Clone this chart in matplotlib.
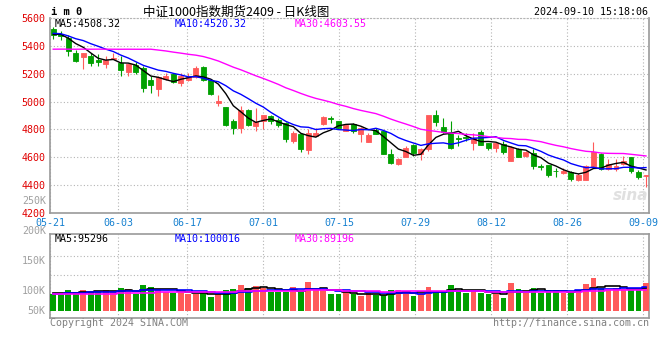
import numpy as np
import pandas as pd
import matplotlib
matplotlib.use('Agg')
import matplotlib.pyplot as plt

# trading days shown on the chart
dates = ['05-21', '05-22', '05-23', '05-24', '05-27', '05-28', '05-29', '05-30', '05-31',
         '06-03', '06-04', '06-05', '06-06', '06-07', '06-11', '06-12', '06-13', '06-14',
         '06-17', '06-18', '06-19', '06-20', '06-21', '06-24', '06-25', '06-26', '06-27', '06-28',
         '07-01', '07-02', '07-03', '07-04', '07-05', '07-08', '07-09', '07-10', '07-11', '07-12',
         '07-15', '07-16', '07-17', '07-18', '07-19', '07-22', '07-23', '07-24', '07-25', '07-26',
         '07-29', '07-30', '07-31', '08-01', '08-02', '08-05', '08-06', '08-07', '08-08', '08-09',
         '08-12', '08-13', '08-14', '08-15', '08-16', '08-19', '08-20', '08-21', '08-22', '08-23',
         '08-26', '08-27', '08-28', '08-29', '08-30', '09-02', '09-03', '09-04', '09-05', '09-06',
         '09-09', '09-10']
tick_labels = ['05-21', '06-03', '06-17', '07-01', '07-15', '07-29', '08-12', '08-26', '09-09']

opens = [5519, 5485, 5455, 5352, 5317, 5324, 5295, 5269, 5307, 5276,
         5210, 5264, 5240, 5157, 5090, 5162, 5200, 5133, 5152, 5176,
         5245, 5152, 4990, 4962, 4860, 4807, 4943, 4824, 4860, 4895,
         4871, 4843, 4717, 4769, 4652, 4752, 4836, 4883, 4857, 4790,
         4836, 4764, 4712, 4795, 4788, 4621, 4550, 4605, 4686, 4621,
         4657, 4900, 4819, 4781, 4738, 4748, 4705, 4783, 4705, 4669,
         4693, 4576, 4657, 4610, 4633, 4536, 4543, 4505, 4488, 4495,
         4440, 4440, 4531, 4624, 4519, 4519, 4550, 4605, 4495, 4469]
highs = [5538, 5507, 5479, 5371, 5348, 5348, 5340, 5329, 5348, 5324,
         5269, 5281, 5252, 5186, 5181, 5205, 5205, 5205, 5205, 5252,
         5257, 5162, 5050, 4962, 4876, 4967, 4948, 4955, 4900, 4907,
         4883, 4852, 4788, 4776, 4800, 4812, 4895, 4895, 4857, 4836,
         4843, 4819, 4776, 4812, 4790, 4657, 4598, 4681, 4698, 4669,
         4900, 4936, 4883, 4860, 4757, 4776, 4776, 4793, 4705, 4710,
         4717, 4683, 4669, 4645, 4657, 4550, 4548, 4524, 4524, 4500,
         4488, 4548, 4710, 4631, 4590, 4586, 4610, 4605, 4510, 4476]
lows = [5448, 5443, 5329, 5285, 5233, 5252, 5252, 5240, 5305, 5181,
        5181, 5200, 5067, 5062, 5043, 5157, 5133, 5110, 5145, 5169,
        5145, 5050, 4967, 4824, 4769, 4776, 4824, 4788, 4800, 4836,
        4819, 4710, 4705, 4638, 4621, 4752, 4829, 4848, 4800, 4786,
        4776, 4710, 4712, 4764, 4621, 4550, 4543, 4605, 4610, 4581,
        4645, 4824, 4776, 4657, 4681, 4719, 4650, 4688, 4652, 4638,
        4621, 4576, 4605, 4605, 4514, 4510, 4460, 4460, 4481, 4433,
        4429, 4440, 4524, 4512, 4510, 4502, 4543, 4490, 4443, 4386]
closes = [5479, 5474, 5360, 5288, 5348, 5276, 5281, 5295, 5312, 5224,
          5269, 5210, 5098, 5117, 5176, 5186, 5140, 5181, 5174, 5240,
          5152, 5057, 5005, 4829, 4807, 4936, 4829, 4852, 4900, 4860,
          4829, 4733, 4776, 4662, 4776, 4776, 4890, 4876, 4810, 4829,
          4788, 4812, 4757, 4769, 4621, 4562, 4586, 4669, 4633, 4657,
          4900, 4855, 4783, 4664, 4731, 4740, 4740, 4688, 4669, 4705,
          4638, 4671, 4605, 4638, 4538, 4533, 4476, 4500, 4505, 4445,
          4476, 4536, 4636, 4519, 4550, 4538, 4574, 4502, 4455, 4476]
# closes before 05-21, only needed to start the moving averages
prior_closes = [5460, 5370, 5300, 5330, 5290, 5270, 5300, 5320, 5230, 5260,
                5220, 5100, 5102, 5360, 5380, 5390, 5400, 5420, 5430, 5448,
                5500, 5520, 5490, 5480, 5500, 5470, 5500, 5480, 5481]

# volume in thousands of lots
volumes = [71, 67, 87, 79, 87, 79, 83, 87, 79, 96,
           92, 72, 108, 100, 92, 79, 76, 79, 72, 69,
           74, 58, 72, 87, 92, 108, 96, 104, 94, 79,
           79, 79, 100, 79, 121, 87, 87, 72, 72, 80,
           69, 61, 76, 65, 65, 87, 87, 83, 62, 74,
           100, 83, 83, 108, 87, 76, 87, 76, 72, 72,
           54, 116, 92, 76, 96, 76, 87, 87, 76, 76,
           83, 112, 137, 96, 87, 96, 92, 87, 87, 116]
prior_volumes = [62, 70, 65, 73, 68, 60, 66, 71, 69, 64,
                 72, 67, 70, 63, 68, 66, 71, 69, 65, 72,
                 66, 71, 68, 72, 68, 74, 79, 73, 78]

price_ma_text = ['MA5:4508.32', 'MA10:4520.32', 'MA30:4603.55']
vol_ma_text = ['MA5:95296', 'MA10:100016', 'MA30:89196']
vol_axis_labels = ['250K', '200K', '150K', '100K', '50K']

RED = '#ff5a5a'
GREEN = '#00a000'
MA_COLORS = ['black', '#0000ff', '#ff00ff']
GRID = '#b4b4b4'
BORDER = '#9a9a9a'

plt.rcParams['font.family'] = 'DejaVu Sans Mono'

n = len(closes)
x = np.arange(n)
o = np.array(opens, float)
c = np.array(closes, float)
h = np.array(highs, float)
lo = np.array(lows, float)
colors = np.where(c >= o, RED, GREEN)

all_close = pd.Series(prior_closes + closes, dtype=float)
all_vol = pd.Series(prior_volumes + volumes, dtype=float)
k0 = len(prior_closes)

W, H = 660, 360
fig = plt.figure(figsize=(6.6, 3.6), dpi=100)
ax = fig.add_axes([50 / W, (H - 213) / H, 599 / W, 195 / H])
axv = fig.add_axes([50 / W, (H - 318) / H, 599 / W, 84 / H])

# price panel
ax.vlines(x, lo, h, colors=colors, lw=0.8, zorder=3)
ax.bar(x, np.abs(c - o), bottom=np.minimum(o, c), width=0.66, color=colors,
       edgecolor=colors, linewidth=0.6, zorder=4)
for win, col in zip([5, 10, 30], MA_COLORS):
    ma = all_close.rolling(win).mean().iloc[k0:].values
    ax.plot(x, ma, color=col, lw=1.0, zorder=5)

ax.set_xlim(-0.36, 79.4)
ax.set_ylim(4200, 5600)
ax.set_yticks(np.arange(4200, 5601, 200))
ax.tick_params(axis='y', length=0, pad=3.5, labelsize=7.2, labelcolor='#e00000')

# the date grid drifts slightly against the bar slots in the original
tick_idx = np.array([dates.index(t) for t in tick_labels])
tick_x = tick_idx * 1.0137 - 0.43
ax.set_xticks(tick_x)
ax.set_xticklabels(tick_labels)
ax.tick_params(axis='x', length=0, pad=3.5, labelsize=7.2, labelcolor='#1580d0')
ax.grid(True, color=GRID, lw=0.8, linestyle=(0, (1, 2)))
ax.set_axisbelow(True)
for s in ['left', 'right', 'bottom']:
    ax.spines[s].set_color(BORDER)
    ax.spines[s].set_linewidth(1.2)
ax.spines['top'].set_color(GRID)
ax.spines['top'].set_linestyle((0, (1, 2)))

# faint watermark in the lower right corner
ax.text(0.97, 0.09, 'sina', transform=ax.transAxes, fontsize=11, color='#e0e0e0',
        style='italic', fontweight='bold', family='DejaVu Sans', ha='center',
        va='center', zorder=1)

# volume panel
axv.bar(x, volumes, width=0.76, color=colors, zorder=3)
for win, col in zip([5, 10, 30], MA_COLORS):
    ma = all_vol.rolling(win).mean().iloc[k0:].values
    axv.plot(x, ma, color=col, lw=1.2, drawstyle='steps-mid', zorder=4)
axv.set_xlim(-0.36, 79.4)
axv.set_ylim(-29, 321)
axv.set_xticks(tick_x)
axv.set_xticklabels([])
axv.set_yticks([149, 230])
axv.set_yticklabels([])
axv.tick_params(length=0)
axv.grid(True, color=GRID, lw=0.8, linestyle=(0, (1, 2)))
axv.set_axisbelow(True)
for s in axv.spines.values():
    s.set_color(BORDER)
    s.set_linewidth(1.2)

for lab, ypx in zip(vol_axis_labels, [201, 231, 261, 291, 311]):
    axv.text(-0.007, (318 - ypx) / 84, lab, transform=axv.transAxes, ha='right',
             va='center', fontsize=7.2, color='#a0a0a0', clip_on=False)

# header and labels
fig.text(51 / W, 1 - 12 / H, 'i m 0', fontsize=7.5, fontweight='bold', va='center')
fig.text(236 / W, 1 - 12 / H, '中证1000指数期货2409 - 日K线图', fontsize=9,
         family=['Noto Sans CJK SC', 'DejaVu Sans'], ha='center', va='center')
fig.text(648 / W, 1 - 12 / H, '2024-09-10 15:18:06', fontsize=7.2, ha='right', va='center')

for txt, xp, col in zip(price_ma_text, [55, 175, 295], MA_COLORS):
    fig.text(xp / W, 1 - 24 / H, txt, fontsize=7.2, color=col, va='center')
for txt, xp, col in zip(vol_ma_text, [55, 175, 295], MA_COLORS):
    fig.text(xp / W, 1 - 239 / H, txt, fontsize=7.2, color=col, va='center')

fig.text(50 / W, 1 - 323 / H, 'Copyright 2024 SINA.COM', fontsize=7.2, color='#808080', va='center')
fig.text(649 / W, 1 - 323 / H, 'http://finance.sina.com.cn', fontsize=7.2, color='#808080',
         ha='right', va='center')

fig.savefig('out.png', dpi=100)
